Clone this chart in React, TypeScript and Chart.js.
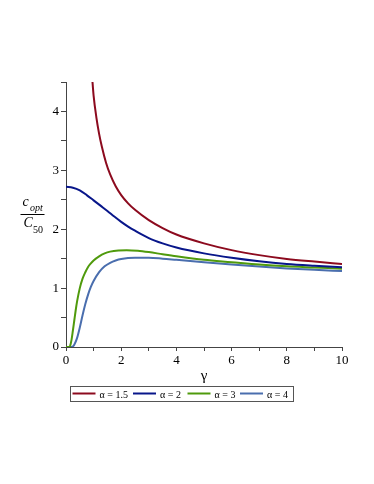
import React, { useEffect, useRef } from 'react';
import { Chart, registerables } from 'chart.js';

Chart.register(...registerables);

// α = 1.5
const gammaA15 = [0.93, 0.96, 1.0, 1.1, 1.2, 1.3, 1.45, 1.6, 1.8, 2.0, 2.25, 2.5, 3.0, 3.5, 4, 5, 6, 7, 8, 9, 10];
const valuesA15 = [4.7, 4.5, 4.27, 3.9, 3.62, 3.4, 3.13, 2.93, 2.73, 2.58, 2.44, 2.33, 2.155, 2.02, 1.91, 1.76, 1.645, 1.56, 1.495, 1.45, 1.41];

// α = 2
const gammaA2 = [0, 0.25, 0.5, 0.75, 1.0, 1.25, 1.5, 1.75, 2.0, 2.25, 2.5, 3.0, 3.5, 4, 5, 6, 7, 8, 9, 10];
const valuesA2 = [2.72, 2.705, 2.66, 2.58, 2.49, 2.4, 2.31, 2.215, 2.125, 2.045, 1.975, 1.85, 1.76, 1.69, 1.59, 1.515, 1.455, 1.41, 1.38, 1.355];

// α = 3
const gammaA3 = [0, 0.1, 0.15, 0.2, 0.25, 0.3, 0.35, 0.4, 0.5, 0.6, 0.7, 0.8, 0.9, 1.0, 1.2, 1.4, 1.6, 1.9, 2.2, 2.6, 3.0, 3.5, 4, 5, 6, 7, 8, 9, 10];
const valuesA3 = [0, 0, 0.02, 0.12, 0.28, 0.45, 0.62, 0.77, 1.0, 1.16, 1.27, 1.36, 1.42, 1.47, 1.54, 1.59, 1.62, 1.64, 1.645, 1.635, 1.612, 1.575, 1.54, 1.48, 1.44, 1.4, 1.37, 1.35, 1.33];

// α = 4
const gammaA4 = [0, 0.2, 0.25, 0.3, 0.4, 0.5, 0.6, 0.7, 0.8, 0.9, 1.0, 1.2, 1.4, 1.6, 1.8, 2.0, 2.5, 3.0, 3.5, 4, 5, 6, 7, 8, 9, 10];
const valuesA4 = [0, 0, 0.01, 0.04, 0.15, 0.33, 0.54, 0.73, 0.89, 1.02, 1.12, 1.27, 1.37, 1.43, 1.47, 1.495, 1.515, 1.515, 1.5, 1.48, 1.44, 1.4, 1.365, 1.335, 1.31, 1.29];

const seriesLabels = ['α = 1.5', 'α = 2', 'α = 3', 'α = 4'];
const seriesColors = ['#8c0a1e', '#08168a', '#4f9a0c', '#4a6eae'];

const xTickLabels = ['0', '2', '4', '6', '8', '10'];
const yTickLabels = ['0', '1', '2', '3', '4'];

const FONT = '"Liberation Serif", "Times New Roman", serif';

function toPoints(xs: number[], ys: number[]) {
  return xs.map((x, i) => ({ x, y: ys[i] }));
}

const overlayPlugin = {
  id: 'overlay',
  afterDraw(chart: any) {
    const ctx = chart.ctx as CanvasRenderingContext2D;
    const area = chart.chartArea;
    ctx.save();
    ctx.fillStyle = '#000';
    ctx.textBaseline = 'alphabetic';

    // y-axis title as fraction c_opt / C_50
    ctx.textAlign = 'left';
    ctx.font = `italic 14px ${FONT}`;
    ctx.fillText('c', 22.5, 206);
    ctx.font = `italic 10px ${FONT}`;
    ctx.fillText('opt', 30, 211);
    ctx.strokeStyle = '#000';
    ctx.lineWidth = 1;
    ctx.beginPath();
    ctx.moveTo(20.5, 214.5);
    ctx.lineTo(44.5, 214.5);
    ctx.stroke();
    ctx.font = `italic 14px ${FONT}`;
    ctx.fillText('C', 23.5, 227);
    ctx.font = `10px ${FONT}`;
    ctx.fillText('50', 33, 233);

    // x-axis title
    ctx.textAlign = 'center';
    ctx.font = `15px ${FONT}`;
    ctx.fillText('γ', (area.left + area.right) / 2, 380);

    // legend
    ctx.strokeStyle = '#555';
    ctx.lineWidth = 1;
    ctx.strokeRect(70.5, 386.5, 223, 15);
    const lineStarts = [72.5, 133, 187.5, 240];
    const lineLen = 23;
    ctx.font = `10px ${FONT}`;
    ctx.textAlign = 'left';
    chart.data.datasets.forEach((ds: any, i: number) => {
      const x0 = lineStarts[i];
      ctx.strokeStyle = ds.borderColor;
      ctx.lineWidth = 2;
      ctx.beginPath();
      ctx.moveTo(x0, 393.5);
      ctx.lineTo(x0 + lineLen, 393.5);
      ctx.stroke();
      ctx.fillStyle = '#000';
      ctx.fillText(ds.label, x0 + lineLen + 4, 398);
    });
    ctx.restore();
  },
};

export default function App() {
  const canvasRef = useRef<HTMLCanvasElement>(null);

  useEffect(() => {
    const canvas = canvasRef.current;
    if (!canvas) return;
    const xs = [gammaA15, gammaA2, gammaA3, gammaA4];
    const ys = [valuesA15, valuesA2, valuesA3, valuesA4];
    const chart = new Chart(canvas, {
      type: 'line',
      data: {
        datasets: seriesLabels.map((label, i) => ({
          label,
          data: toPoints(xs[i], ys[i]),
          borderColor: seriesColors[i],
          backgroundColor: seriesColors[i],
          borderWidth: 2,
          pointRadius: 0,
          fill: false,
          cubicInterpolationMode: 'monotone' as const,
        })),
      },
      options: {
        responsive: false,
        maintainAspectRatio: false,
        animation: false,
        devicePixelRatio: 1,
        layout: { padding: { left: 0, right: 32, top: 82, bottom: 0 } },
        plugins: {
          legend: { display: false },
          tooltip: { enabled: false },
          title: { display: false },
        },
        scales: {
          x: {
            type: 'linear',
            min: 0,
            max: 10,
            afterFit: (scale: any) => {
              scale.height = 137;
            },
            ticks: {
              stepSize: 1,
              autoSkip: false,
              maxRotation: 0,
              padding: 2,
              color: '#000',
              font: { family: FONT, size: 13 },
              callback: (v: any) => {
                const s = String(v);
                return xTickLabels.includes(s) ? s : '';
              },
            },
            grid: {
              display: true,
              drawOnChartArea: false,
              drawTicks: true,
              tickLength: 4,
              color: '#444',
              lineWidth: 1,
            },
            border: { display: true, color: '#444', width: 1 },
          },
          y: {
            type: 'linear',
            min: 0,
            max: 4.5,
            afterFit: (scale: any) => {
              scale.width = 66;
            },
            ticks: {
              stepSize: 0.5,
              autoSkip: false,
              padding: 2,
              color: '#000',
              font: { family: FONT, size: 13 },
              callback: (v: any) => {
                const s = String(v);
                return yTickLabels.includes(s) ? s : '';
              },
            },
            grid: {
              display: true,
              drawOnChartArea: false,
              drawTicks: true,
              tickLength: 5,
              color: '#444',
              lineWidth: 1,
            },
            border: { display: true, color: '#444', width: 1 },
          },
        },
      },
      plugins: [overlayPlugin],
    });
    return () => chart.destroy();
  }, []);

  return (
    <div style={{ position: 'absolute', left: 0, top: 0, width: 374, height: 484, background: '#fff' }}>
      <canvas ref={canvasRef} width={374} height={484} style={{ width: 374, height: 484, display: 'block' }} />
    </div>
  );
}
